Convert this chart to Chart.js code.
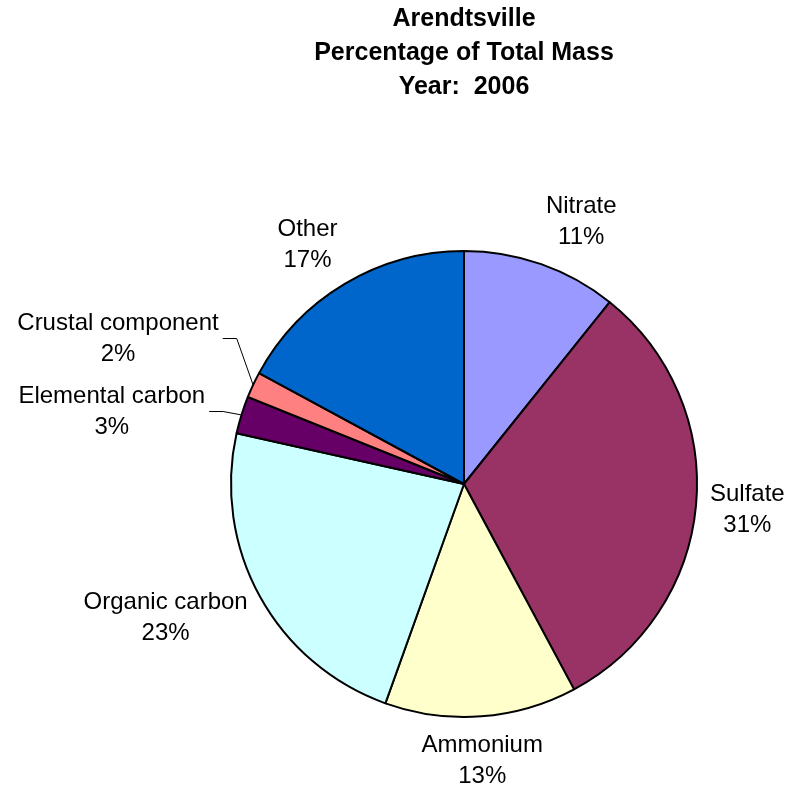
<!DOCTYPE html>
<html>
<head>
<meta charset="utf-8">
<script src="https://cdn.jsdelivr.net/npm/chart.js@4/dist/chart.umd.min.js"></script>
<style>
  html, body { margin: 0; padding: 0; background: #fff; }
  #wrap { width: 789px; height: 793px; }
</style>
</head>
<body>
<div id="wrap"><canvas id="pie"></canvas></div>
<script>
// data, clockwise from 12 o'clock
const categories = ['Nitrate', 'Sulfate', 'Ammonium', 'Organic carbon', 'Elemental carbon', 'Crustal component', 'Other'];
const values = [10.75, 31.4, 13.3, 23.0, 2.6, 1.8, 17.1];
const sliceColors = ['#9999FF', '#993366', '#FFFFCC', '#CCFFFF', '#660066', '#FF8080', '#0066CC'];
const titleLines = ['Arendtsville', 'Percentage of Total Mass', 'Year:  2006'];

const FONT = '"Liberation Sans", Arial, sans-serif';
const LINE_H = 31;

// draws "name / xx%" labels outside the slices, leader lines for tiny slices
const sliceLabels = {
  id: 'sliceLabels',
  afterDatasetsDraw(chart) {
    const ctx = chart.ctx;
    const meta = chart.getDatasetMeta(0);
    const total = values.reduce((a, b) => a + b, 0);
    ctx.save();
    ctx.font = '24px ' + FONT;

    const boxes = meta.data.map((arc, i) => {
      const p = arc.getProps(['x', 'y', 'startAngle', 'endAngle', 'outerRadius'], true);
      const mid = (p.startAngle + p.endAngle) / 2;
      const c = Math.cos(mid), s = Math.sin(mid);
      const small = values[i] / total < 0.05;
      const dist = p.outerRadius + (small ? 38 : 14);
      const ax = p.x + dist * c, ay = p.y + dist * s;
      const lines = [categories[i], Math.round(values[i] / total * 100) + '%'];
      const w = Math.max(...lines.map(t => ctx.measureText(t).width));
      const h = LINE_H * lines.length;
      const f = Math.abs(c) < 0.15 ? 0 : Math.sign(c);
      return {
        lines, w, h, small, side: f,
        cx: ax + f * w / 2, cy: ay + s * h / 2,
        ex: p.x + p.outerRadius * c, ey: p.y + p.outerRadius * s
      };
    });

    // push apart labels that overlap on the same side
    const gap = 11;
    for (let pass = 0; pass < 5; pass++) {
      for (let a = 0; a < boxes.length; a++) {
        for (let b = a + 1; b < boxes.length; b++) {
          const A = boxes[a], B = boxes[b];
          if (A.side !== B.side) continue;
          const need = (A.h + B.h) / 2 + gap;
          const d = Math.abs(A.cy - B.cy);
          if (d < need) {
            const push = (need - d) / 2;
            if (A.cy < B.cy) { A.cy -= push; B.cy += push; }
            else { A.cy += push; B.cy -= push; }
          }
        }
      }
    }

    ctx.fillStyle = '#000';
    ctx.textAlign = 'center';
    ctx.textBaseline = 'middle';
    boxes.forEach(b => {
      b.lines.forEach((t, k) => {
        ctx.fillText(t, b.cx, b.cy - b.h / 2 + LINE_H * (k + 0.5));
      });
      if (b.small) {
        const near = b.side < 0 ? b.cx + b.w / 2 : b.cx - b.w / 2;
        const dir = b.side < 0 ? 1 : -1;
        ctx.strokeStyle = '#000';
        ctx.lineWidth = 1;
        ctx.beginPath();
        ctx.moveTo(b.ex, b.ey);
        ctx.lineTo(near + dir * 18, b.cy);
        ctx.lineTo(near + dir * 4, b.cy);
        ctx.stroke();
      }
    });
    ctx.restore();
  }
};

new Chart(document.getElementById('pie'), {
  type: 'pie',
  data: {
    labels: categories,
    datasets: [{
      data: values,
      backgroundColor: sliceColors,
      borderColor: '#000',
      borderWidth: 2,
      hoverBorderWidth: 2,
      hoverOffset: 0
    }]
  },
  options: {
    responsive: true,
    maintainAspectRatio: false,
    animation: false,
    events: [],
    layout: { padding: { left: 230, right: 91, top: 0, bottom: 75 } },
    plugins: {
      legend: { display: false },
      tooltip: { enabled: false },
      title: {
        display: true,
        text: titleLines,
        color: '#000',
        font: { family: FONT, size: 25, weight: 'bold', lineHeight: 34 / 25 },
        padding: { top: 2, bottom: 146 }
      }
    }
  },
  plugins: [sliceLabels]
});
</script>
</body>
</html>
